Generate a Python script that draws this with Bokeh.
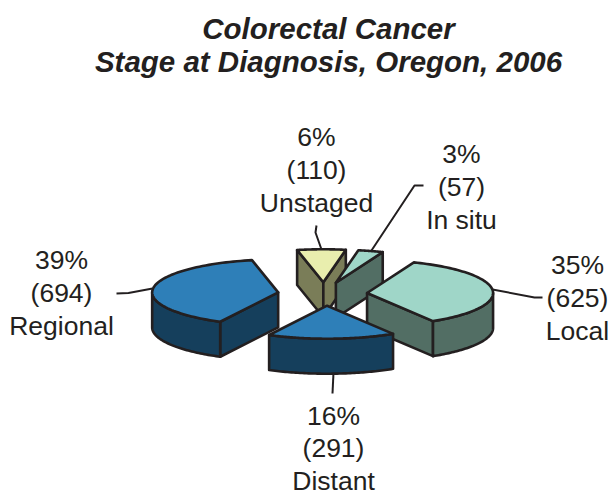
import numpy as np
from bokeh.plotting import figure
from bokeh.embed import file_html
from bokeh.resources import INLINE
from bokeh.core.properties import value

categories = ["Unstaged", "In situ", "Local", "Distant", "Regional"]
counts = [110, 57, 625, 291, 694]
percents = ["6%", "3%", "35%", "16%", "39%"]
title_lines = ["Colorectal Cancer", "Stage at Diagnosis, Oregon, 2006"]

top_colors = ["#e9eeae", "#9fd6c8", "#9fd6c8", "#2e7fb8", "#2e7fb8"]
wall_colors = ["#7a7d58", "#526e64", "#526e64", "#153f5c", "#153f5c"]
paint_order = ["Unstaged", "In situ", "Regional", "Local", "Distant"]
outline = "#231f20"
text_color = "#231f20"

# pie geometry, in page pixels
CX, CY, A, B, DEPTH, EXPLODE, START = 322, 293.5, 126, 33, 35, 0.355, 348.0
nudge_x = [1.5, 1, 0, 3, 0]

label_x = [316, 461, 577, 333, 61]
label_y = [136, 153, 264, 415, 259]
label_step = [33, 33, 33, 32.5, 33]
leaders = {
    "Unstaged": ([316, 315, 321], [225, 232, 249]),
    "In situ": ([423, 414, 371], [185, 185, 250]),
    "Local": ([492, 534, 542], [289, 297, 297]),
    "Distant": ([333, 332], [372, 393]),
    "Regional": ([116, 128, 152], [293, 292.5, 288]),
}

W, H = 610, 491
p = figure(width=W, height=H, x_range=(0, W), y_range=(H, 0),
           output_backend="svg", toolbar_location=None, min_border=0,
           outline_line_color=None, background_fill_color="white",
           border_fill_color="white")
p.axis.visible = False
p.grid.visible = False


def pt(cx, cy, deg):
    r = np.radians(deg)
    return cx + A * np.sin(r), cy - B * np.cos(r)


total = sum(counts)
edges = START + np.concatenate([[0], np.cumsum(counts)]) * 360.0 / total
LW = 2.6

spans = {c: (edges[i], edges[i + 1]) for i, c in enumerate(categories)}


def draw(cat):
    i = categories.index(cat)
    a0, a1 = spans[cat]
    mid = (a0 + a1) / 2
    cx, cy = pt(CX, CY, mid)
    dx, dy = (cx - CX) * EXPLODE, (cy - CY) * EXPLODE
    ccx, ccy = CX + dx + nudge_x[i], CY + dy
    mx, my = pt(ccx, ccy, mid)
    for ang in (a0, a1):
        ex, ey = pt(ccx, ccy, ang)
        nx, ny = -(ey - ccy), ex - ccx
        if nx * (mx - ccx) + ny * (my - ccy) > 0:
            nx, ny = -nx, -ny
        if ny > 0:
            p.patch([ccx, ex, ex, ccx], [ccy, ey, ey + DEPTH, ccy + DEPTH],
                    fill_color=wall_colors[i], line_color=outline,
                    line_width=LW, line_join="round")
    for lo, hi in [(a0, a1), (a0 - 360, a1 - 360)]:
        r0, r1 = max(lo, 90), min(hi, 270)
        if r1 > r0:
            th = np.linspace(r0, r1, 60)
            xs, ys = pt(ccx, ccy, th)
            p.patch(np.concatenate([xs, xs[::-1]]),
                    np.concatenate([ys, ys[::-1] + DEPTH]),
                    fill_color=wall_colors[i], line_color=outline,
                    line_width=LW, line_join="round")
    th = np.linspace(a0, a1, 80)
    xs, ys = pt(ccx, ccy, th)
    p.patch(np.concatenate([[ccx], xs]), np.concatenate([[ccy], ys]),
            fill_color=top_colors[i], line_color=outline,
            line_width=LW, line_join="round")


for cat in categories:
    lx, ly = leaders[cat]
    p.line(lx, ly, line_color=outline, line_width=2)

for cat in paint_order:
    draw(cat)

for i, cat in enumerate(categories):
    lines = [percents[i], f"({counts[i]})", cat]
    ys = [label_y[i] + k * label_step[i] for k in range(3)]
    p.text([label_x[i]] * 3, ys, text=lines, text_font=value("Liberation Sans"),
           text_font_size="26.5px", text_color=text_color,
           text_align="center", text_baseline="alphabetic")

p.text([328, 328], [28, 61], text=title_lines, text_font=value("Liberation Sans"),
       text_font_size="29.5px", text_font_style="bold italic", text_color=text_color,
       text_align="center", text_baseline="alphabetic")

open("out.html", "w").write(file_html(p, INLINE))
